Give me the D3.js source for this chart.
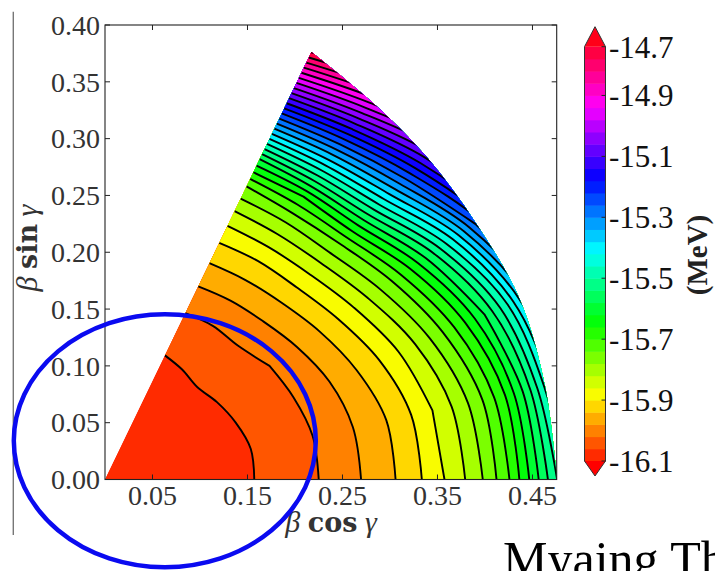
<!DOCTYPE html>
<html><head><meta charset="utf-8">
<script src="https://cdn.jsdelivr.net/npm/d3@7"></script>
<style>html,body{margin:0;padding:0;background:#fff}svg{display:block}</style>
</head><body>
<svg id="c" width="715" height="571"></svg>
<script>
// ---------------- data ----------------
const gammaDeg = [0, 10, 20, 30, 40, 50, 60];            // grid columns (degrees)
const betaGrid = [0, 0.025, 0.05, 0.075, 0.1, 0.125, 0.15, 0.175, 0.2, 0.225, 0.25,
                  0.275, 0.3, 0.325, 0.35, 0.375, 0.4, 0.425, 0.45, 0.475, 0.5]; // grid rows
// energy (MeV) along each gamma ray, one value per beta in betaGrid
const E_g0  = [-16.080,-16.080,-16.078,-16.076,-16.072,-16.068,-16.064,-16.050,-16.035,-16.020,-15.998,-15.975,-15.948,-15.914,-15.873,-15.829,-15.775,-15.703,-15.607,-15.504,-15.400];
const E_g10 = [-16.080,-16.080,-16.078,-16.075,-16.072,-16.067,-16.063,-16.050,-16.034,-16.018,-15.995,-15.970,-15.941,-15.904,-15.860,-15.811,-15.751,-15.671,-15.565,-15.431,-15.260];
const E_g20 = [-16.080,-16.079,-16.078,-16.075,-16.071,-16.066,-16.059,-16.044,-16.029,-16.009,-15.982,-15.950,-15.913,-15.868,-15.815,-15.751,-15.673,-15.580,-15.465,-15.315,-15.150];
const E_g30 = [-16.080,-16.079,-16.077,-16.074,-16.070,-16.064,-16.055,-16.037,-16.020,-15.991,-15.958,-15.916,-15.866,-15.807,-15.737,-15.645,-15.535,-15.409,-15.260,-15.093,-14.930];
const E_g40 = [-16.080,-16.079,-16.077,-16.073,-16.068,-16.061,-16.046,-16.028,-16.003,-15.969,-15.927,-15.876,-15.811,-15.733,-15.610,-15.469,-15.328,-15.187,-15.046,-14.905,-14.760];
const E_g50 = [-16.080,-16.079,-16.077,-16.073,-16.068,-16.061,-16.042,-16.022,-15.989,-15.948,-15.902,-15.841,-15.767,-15.660,-15.493,-15.327,-15.160,-14.993,-14.827,-14.660,-14.490];
const E_g60 = [-16.080,-16.079,-16.077,-16.073,-16.068,-16.061,-16.039,-16.014,-15.974,-15.931,-15.881,-15.814,-15.733,-15.584,-15.390,-15.197,-15.003,-14.810,-14.616,-14.423,-14.230];
// outer edge of the computed region: beta_max for each gamma
const edgeGamma = [0, 10, 20, 30, 40, 50, 60];
const edgeBeta  = [0.476, 0.4705, 0.4645, 0.451, 0.4418, 0.435, 0.4345];
// contour levels
const levelMin = -16.1, levelStep = 0.04, levelCount = 35;
// ticks
const xTicks = [0.05, 0.15, 0.25, 0.35, 0.45];
const yTicks = [0.00, 0.05, 0.10, 0.15, 0.20, 0.25, 0.30, 0.35, 0.40];
const cbarTicks  = [-16.1, -15.9, -15.7, -15.5, -15.3, -15.1, -14.9, -14.74];
const cbarLabels = ["-16.1", "-15.9", "-15.7", "-15.5", "-15.3", "-15.1", "-14.9", "-14.7"];

// ---------------- colormap (matplotlib "hsv") ----------------
const segR = [[0,1],[0.158730,1],[0.174603,0.96875],[0.333333,0.03125],[0.349206,0],[0.666667,0],[0.682540,0.03125],[0.841270,0.96875],[0.857143,1],[1,1]];
const segG = [[0,0],[0.158730,0.9375],[0.174603,1],[0.507937,1],[0.666667,0.0625],[0.682540,0],[1,0]];
const segB = [[0,0],[0.333333,0],[0.349206,0.0625],[0.507937,1],[0.841270,1],[0.857143,0.9375],[1,0.09375]];
const chan = seg => d3.scaleLinear().domain(seg.map(d => d[0])).range(seg.map(d => d[1])).clamp(true);
const cR = chan(segR), cG = chan(segG), cB = chan(segB);
const hsv = v => d3.rgb(255 * cR(v), 255 * cG(v), 255 * cB(v)).formatHex();
const thresholds = d3.range(levelCount).map(i => +(levelMin + i * levelStep).toFixed(2));
const levelColor = i => hsv((i + 1) / levelCount);

// ---------------- layout ----------------
const svg = d3.select("#c");
const x = d3.scaleLinear().domain([0, 0.4755]).range([105, 556.7]);
const y = d3.scaleLinear().domain([0, 0.40]).range([479.5, 25]);
const serif = "'Liberation Serif', 'Times New Roman', serif";
const serifBold = "'DejaVu Serif', 'Liberation Serif', serif";

const defs = svg.append("defs");
const toXY = (b, gdeg) => { const g = gdeg * Math.PI / 180; return [x(b * Math.cos(g)), y(b * Math.sin(g))]; };

// clip: wedge bounded by gamma=0, gamma=60 and the outer edge
const edgePts = edgeGamma.map((g, i) => toXY(edgeBeta[i], g));
const arc = d3.line().curve(d3.curveCatmullRom.alpha(0.5))(edgePts);
const o = toXY(0, 0);
const wedge = `M${o[0]},${o[1]}L` + arc.slice(1) + "Z";
defs.append("clipPath").attr("id", "wedge").append("path").attr("d", wedge);

// energy grid -> contours
const cols = [E_g0, E_g10, E_g20, E_g30, E_g40, E_g50, E_g60];
const n = gammaDeg.length, m = betaGrid.length;
const values = new Array(n * m);
for (let j = 0; j < m; j++) for (let i = 0; i < n; i++) values[j * n + i] = cols[i][j];

// calibrate d3.contours coordinate convention (value index -> coordinate)
const cal = d3.contours().size([2, 2]).thresholds([0.5])([0, 1, 0, 1])[0];
let minX = Infinity;
cal.coordinates.forEach(p => p.forEach(r => r.forEach(pt => { minX = Math.min(minX, pt[0]); })));
const off = minX - 0.5;

const dG = gammaDeg[1] - gammaDeg[0], dB = betaGrid[1] - betaGrid[0];
const proj = pt => toXY(betaGrid[0] + (pt[1] - off) * dB, gammaDeg[0] + (pt[0] - off) * dG);
const isBorder = p => p[0] <= 0 || p[0] >= n || p[1] <= 0 || p[1] >= m;
const onColumn = p => { const u = p[0] - off; return Math.abs(u - Math.round(u)) < 1e-7; };
const smoothOpen = d3.line().curve(d3.curveCatmullRom.alpha(0.5));
const smoothClosed = d3.line().curve(d3.curveCatmullRomClosed.alpha(0.5));
const f2 = p => p[0].toFixed(2) + "," + p[1].toFixed(2);
// keep run end points and the points where the line crosses a gamma column
const thin = run => run.length <= 3 ? run : run.filter((p, k) => k === 0 || k === run.length - 1 || onColumn(p));

function ringPaths(ring) {
  let pts = ring.slice(0, ring.length - 1);
  const bi = pts.findIndex(isBorder);
  if (bi < 0) {
    const kept = pts.filter(onColumn);
    const d = smoothClosed((kept.length >= 3 ? kept : pts).map(proj));
    return { fill: d, stroke: d };
  }
  pts = pts.slice(bi).concat(pts.slice(0, bi));
  let fill = "", stroke = "";
  let run = [];
  const flush = () => {
    if (run.length) {
      const pp = thin(run).map(proj);
      if (pp.length >= 2) {
        const s = smoothOpen(pp);
        fill += "L" + s.slice(1);
        stroke += s;
      } else fill += "L" + f2(pp[0]);
      run = [];
    }
  };
  pts.forEach((p, k) => {
    if (isBorder(p)) { flush(); fill += (k === 0 ? "M" : "L") + f2(proj(p)); }
    else run.push(p);
  });
  flush();
  return { fill: fill + "Z", stroke };
}
function mpPaths(mp) {
  let fill = "", stroke = "";
  mp.coordinates.forEach(poly => poly.forEach(ring => {
    const r = ringPaths(ring); fill += r.fill; stroke += r.stroke;
  }));
  return { fill, stroke };
}

const contours = d3.contours().size([n, m]).thresholds(thresholds)(values);
const paths = contours.map(mpPaths);

const plot = svg.append("g").attr("clip-path", "url(#wedge)");
plot.append("path").attr("d", wedge).attr("fill", hsv(0));
plot.selectAll("path.band").data(paths).join("path")
  .attr("class", "band").attr("d", d => d.fill).attr("fill-rule", "evenodd")
  .attr("fill", (d, i) => levelColor(i))
  .attr("stroke", (d, i) => levelColor(i)).attr("stroke-width", 0.6);
plot.selectAll("path.iso").data(paths).join("path")
  .attr("class", "iso").attr("d", d => d.stroke)
  .attr("fill", "none").attr("stroke", "#000").attr("stroke-width", 1.9)
  .attr("stroke-linejoin", "round");

// frame & ticks
const axisColor = "#222";
svg.append("rect").attr("x", 105).attr("y", 25).attr("width", 556.7 - 105).attr("height", 479.5 - 25)
  .attr("fill", "none").attr("stroke", axisColor).attr("stroke-width", 1.1);
const tl = 5;
const tk = svg.append("g").attr("stroke", axisColor).attr("stroke-width", 1);
xTicks.forEach(t => {
  tk.append("line").attr("x1", x(t)).attr("x2", x(t)).attr("y1", 479.5).attr("y2", 479.5 - tl);
  tk.append("line").attr("x1", x(t)).attr("x2", x(t)).attr("y1", 25).attr("y2", 25 + tl);
});
yTicks.forEach(t => {
  tk.append("line").attr("x1", 105).attr("x2", 105 + tl).attr("y1", y(t)).attr("y2", y(t));
  tk.append("line").attr("x1", 556.7).attr("x2", 556.7 - tl).attr("y1", y(t)).attr("y2", y(t));
});
const fmt = d3.format(".2f");
svg.append("g").selectAll("text").data(xTicks).join("text")
  .attr("x", d => x(d)).attr("y", 505).attr("text-anchor", "middle")
  .attr("font-family", serif).attr("font-size", 28).attr("fill", "#333").text(fmt);
svg.append("g").selectAll("text").data(yTicks).join("text")
  .attr("x", 100).attr("y", d => y(d)).attr("dy", "0.35em").attr("text-anchor", "end")
  .attr("font-family", serif).attr("font-size", 28).attr("fill", "#333").text(fmt);

// axis labels
const xl = svg.append("text").attr("x", 331).attr("y", 532).attr("text-anchor", "middle")
  .attr("font-family", serif).attr("font-size", 30).attr("fill", "#333");
xl.append("tspan").attr("font-style", "italic").text("β ");
xl.append("tspan").attr("font-family", serifBold).attr("font-weight", "bold").attr("font-size", 27).text("cos");
xl.append("tspan").attr("font-style", "italic").text(" γ");
const yl = svg.append("text").attr("transform", "translate(37,248) rotate(-90)").attr("text-anchor", "middle")
  .attr("font-family", serif).attr("font-size", 30).attr("fill", "#333");
yl.append("tspan").attr("font-style", "italic").text("β ");
yl.append("tspan").attr("font-family", serifBold).attr("font-weight", "bold").attr("font-size", 27).text("sin");
yl.append("tspan").attr("font-style", "italic").text(" γ");

// colorbar
const cbX0 = 584.5, cbW = 21, cbTop = 46.7, cbBot = 461, triH = 15;
const cy = d3.scaleLinear().domain([levelMin, thresholds[levelCount - 1]]).range([cbBot, cbTop]);
const cb = svg.append("g");
cb.selectAll("rect").data(d3.range(levelCount - 1)).join("rect")
  .attr("x", cbX0).attr("width", cbW)
  .attr("y", i => cy(thresholds[i + 1]))
  .attr("height", i => cy(thresholds[i]) - cy(thresholds[i + 1]) + 0.5)
  .attr("fill", i => levelColor(i));
cb.append("path").attr("d", `M${cbX0},${cbBot}L${cbX0 + cbW / 2},${cbBot + triH}L${cbX0 + cbW},${cbBot}Z`).attr("fill", hsv(0));
cb.append("path").attr("d", `M${cbX0},${cbTop}L${cbX0 + cbW / 2},${cbTop - triH - 5}L${cbX0 + cbW},${cbTop}Z`).attr("fill", hsv(1));
cb.append("path")
  .attr("d", `M${cbX0},${cbTop}L${cbX0 + cbW / 2},${cbTop - triH - 5}L${cbX0 + cbW},${cbTop}L${cbX0 + cbW},${cbBot}L${cbX0 + cbW / 2},${cbBot + triH}L${cbX0},${cbBot}Z`)
  .attr("fill", "none").attr("stroke", "#333").attr("stroke-width", 1);
cbarTicks.forEach((t, i) => {
  cb.append("line").attr("x1", cbX0 + cbW - 4).attr("x2", cbX0 + cbW).attr("y1", cy(t)).attr("y2", cy(t))
    .attr("stroke", "#222").attr("stroke-width", 1);
  cb.append("text").attr("x", 609).attr("y", cy(t)).attr("dy", "0.35em")
    .attr("font-family", serif).attr("font-size", 31).attr("fill", "#111").text(cbarLabels[i]);
});
svg.append("text").attr("transform", "translate(707,255) rotate(-90)").attr("text-anchor", "middle")
  .attr("font-family", serif).attr("font-size", 29).attr("font-weight", "bold").attr("fill", "#222").text("(MeV)");

// slide decorations
svg.append("line").attr("x1", 13.3).attr("x2", 13.3).attr("y1", 11.7).attr("y2", 535)
  .attr("stroke", "#777").attr("stroke-width", 1.4);
svg.append("ellipse").attr("cx", 164.8).attr("cy", 440.8).attr("rx", 151).attr("ry", 126.5)
  .attr("fill", "none").attr("stroke", "#0a0af0").attr("stroke-width", 4.5);
svg.append("text").attr("x", 503).attr("y", 576).attr("font-family", serif).attr("font-size", 50)
  .attr("fill", "#000").text("Myaing Th");
</script>
</body></html>
